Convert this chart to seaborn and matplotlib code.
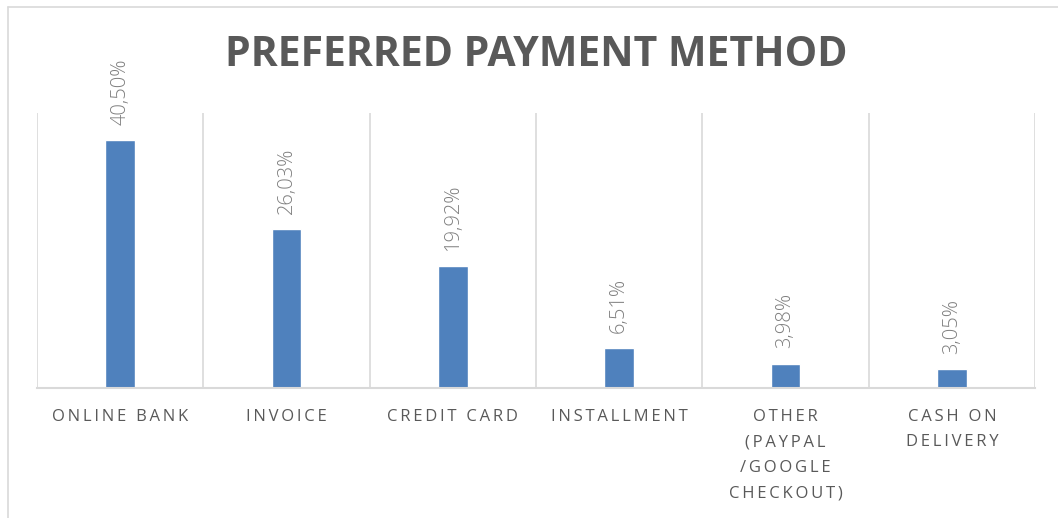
import matplotlib
matplotlib.use("Agg")
import matplotlib.pyplot as plt
from matplotlib.lines import Line2D
import seaborn as sns
import pandas as pd

categories = ["ONLINE BANK", "INVOICE", "CREDIT CARD", "INSTALLMENT",
              "OTHER\n(PAYPAL\n/GOOGLE\nCHECKOUT)", "CASH ON\nDELIVERY"]
values = [40.50, 26.03, 19.92, 6.51, 3.98, 3.05]
title = "PREFERRED PAYMENT METHOD"

BAR = "#4F81BD"
GRID = "#d9d9d9"
TXT = "#595959"

sns.set_style("white")
plt.rcParams["font.family"] = ["Open Sans", "DejaVu Sans"]

def spaced(s, sep="\u2009"):
  # fake excel letter spacing
  return "\n".join(sep.join(line) for line in s.split("\n"))

W, H = 1058, 518
fig = plt.figure(figsize=(W / 100, H / 100), dpi=100)
ax = fig.add_axes([37 / W, 1 - 388 / H, (1035 - 37) / W, (388 - 113) / H])

df = pd.DataFrame({"cat": categories, "val": values})
sns.barplot(data=df, x="cat", y="val", color=BAR, width=0.18, saturation=1, ax=ax)

ax.set_xlim(-0.5, len(categories) - 0.5)
ax.set_ylim(0, 45)
ax.set_yticks([])
ax.set_xlabel("")
ax.set_ylabel("")

# vertical separators between categories
ax.set_xticks([i - 0.5 for i in range(len(categories) + 1)], minor=True)
ax.grid(which="minor", axis="x", color=GRID, lw=1.2)
ax.tick_params(which="both", length=0)
ax.set_xticks(range(len(categories)))
ax.set_xticklabels([spaced(c) for c in categories], fontsize=12, color=TXT,
                   linespacing=1.8, va="top")
ax.tick_params(axis="x", pad=15)

for s in ["top", "left", "right"]:
  ax.spines[s].set_visible(False)
ax.spines["bottom"].set_color(GRID)
ax.spines["bottom"].set_linewidth(1.5)

for i, v in enumerate(values):
  lab = f"{v:.2f}%".replace(".", ",")
  ax.annotate(lab, (i, v), xytext=(0, 11), textcoords="offset points",
              rotation=90, ha="center", va="bottom", fontsize=14.5, color="#7f7f7f",
              fontweight="light")

fig.text(536 / W, 1 - 55 / H, title, ha="center", va="center",
         fontsize=29.5, fontweight="bold", color=TXT)

# chart frame (cropped)
fig.add_artist(Line2D([8 / W, 1], [1 - 7 / H, 1 - 7 / H], color=GRID, lw=1.2))
fig.add_artist(Line2D([8 / W, 8 / W], [0, 1 - 7 / H], color=GRID, lw=1.2))

fig.savefig("out.png", dpi=100)
